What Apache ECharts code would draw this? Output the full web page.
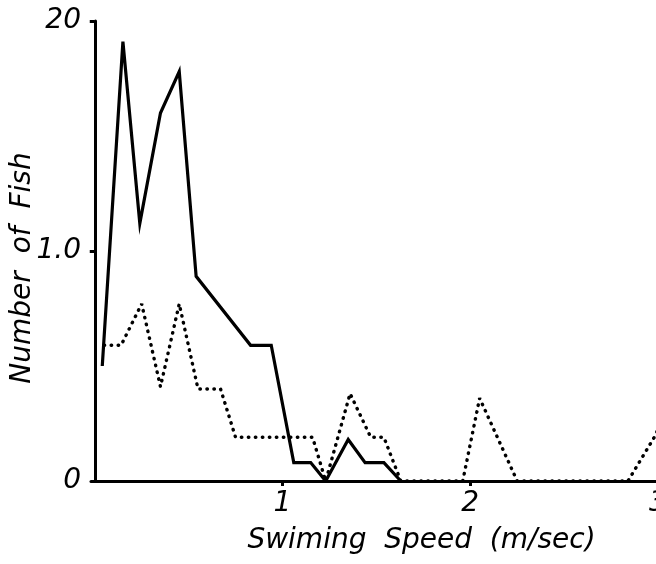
<!DOCTYPE html>
<html>
<head>
<meta charset="utf-8">
<script src="https://cdn.jsdelivr.net/npm/echarts@6/dist/echarts.min.js"></script>
<style>
  html, body { margin: 0; padding: 0; background: #fff; }
  #chart { width: 656px; height: 564px; }
</style>
</head>
<body>
<div id="chart"></div>
<script>
// solid line: speed (m/sec) and number of fish
const solidSpeed = [0.04, 0.15, 0.24, 0.35, 0.45, 0.54, 0.83, 0.94, 1.06, 1.15, 1.23, 1.35, 1.44, 1.54, 1.63]
const solidCount = [5.0, 19.1, 11.2, 16.0, 17.8, 8.9, 5.9, 5.9, 0.8, 0.8, 0, 1.8, 0.8, 0.8, 0]

// dotted line
const dotSpeed = [0.05, 0.14, 0.25, 0.35, 0.45, 0.55, 0.67, 0.75, 1.16, 1.23, 1.36, 1.47, 1.54, 1.63, 1.96, 2.05, 2.25, 2.84, 2.98, 3.05]
const dotCount = [5.9, 5.9, 7.7, 4.1, 7.7, 4.0, 4.0, 1.9, 1.9, 0, 3.8, 1.9, 1.9, 0, 0, 3.6, 0, 0, 1.9, 3.1]

const xTicks = [1, 2, 3]
const yTicks = [0, 10, 20]
const yTickText = ['0', '1.0', '20']

const font = 'DejaVu Sans'

const myChart = echarts.init(document.getElementById('chart'))
const option = {
    backgroundColor: '#fff',
    animation: false,
    grid: {
        left: 91,
        right: -2,
        top: 21,
        bottom: 83,
        containLabel: false,
        outerBoundsMode: 'none'
    },
    xAxis: {
        type: 'value',
        min: -0.02,
        max: 3,
        name: 'Swiming  Speed  (m/sec)',
        nameLocation: 'middle',
        nameGap: 46,
        nameTextStyle: {
            fontFamily: font,
            fontStyle: 'italic',
            fontSize: 28,
            color: '#000',
            padding: [0, 0, 0, 94]
        },
        axisLine: { lineStyle: { color: '#000', width: 3 } },
        axisTick: {
            show: true,
            length: 5,
            lineStyle: { color: '#000', width: 3 },
            customValues: xTicks
        },
        axisLabel: {
            customValues: xTicks,
            margin: 9,
            fontFamily: font,
            fontStyle: 'italic',
            fontSize: 28,
            color: '#000'
        },
        splitLine: { show: false }
    },
    yAxis: {
        type: 'value',
        min: 0,
        max: 20,
        name: 'Number  of  Fish',
        nameLocation: 'middle',
        nameGap: 54,
        nameMoveOverlap: false,
        nameTextStyle: {
            fontFamily: font,
            fontStyle: 'italic',
            fontSize: 28,
            color: '#000',
            padding: [0, 34, 0, 0]
        },
        axisLine: { show: true, lineStyle: { color: '#000', width: 3 } },
        axisTick: {
            show: true,
            length: 5,
            lineStyle: { color: '#000', width: 3 },
            customValues: [10, 20]
        },
        axisLabel: {
            customValues: yTicks,
            margin: 10,
            fontFamily: font,
            fontStyle: 'italic',
            fontSize: 28,
            color: '#000',
            formatter (v) {
                return yTickText[yTicks.indexOf(v)]
            }
        },
        splitLine: { show: false }
    },
    series: [
        {
            type: 'line',
            data: dotSpeed.map((s, i) => [s, dotCount[i]]),
            showSymbol: false,
            z: 2,
            lineStyle: {
                color: '#000',
                width: 3.4,
                type: [0.5, 6.5],
                cap: 'round'
            }
        },
        {
            type: 'line',
            data: solidSpeed.map((s, i) => [s, solidCount[i]]),
            showSymbol: false,
            z: 3,
            lineStyle: { color: '#000', width: 3.2, join: 'miter' }
        }
    ]
}
myChart.setOption(option)
</script>
</body>
</html>
